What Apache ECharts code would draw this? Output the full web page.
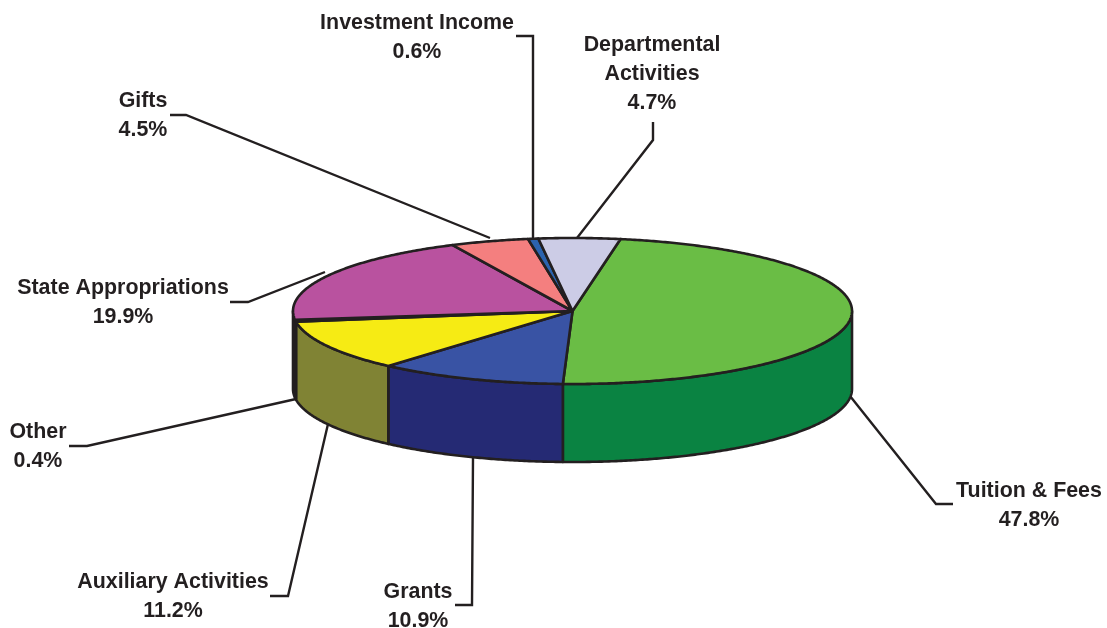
<!DOCTYPE html>
<html><head><meta charset="utf-8">
<style>html,body{margin:0;padding:0;background:#fff}#c{width:1107px;height:628px}</style>
<script src="https://cdn.jsdelivr.net/npm/echarts@6/dist/echarts.min.js"></script>
</head><body><div id="c"></div>
<script>
// Data: clockwise from the top of the pie
var categories = ['Tuition & Fees','Grants','Auxiliary Activities','Other','State Appropriations','Gifts','Investment Income','Departmental Activities'];
var shares = [47.8,10.9,11.2,0.4,19.9,4.5,0.6,4.7];
var labelLines = [['Tuition & Fees'],['Grants'],['Auxiliary Activities'],['Other'],['State Appropriations'],['Gifts'],['Investment Income'],['Departmental','Activities']];

// Styles
var topColors = ['#6abd45','#3953a4','#f6eb14','#231f20','#b9529f','#f47f7f','#2b63ae','#cccce6'];
var sideColors = ['#0a8342','#252a74','#808334','#231f20','#231f20','#f47f7f','#2b63ae','#cccce6'];
var ink = '#231f20';

// Layout of the projected pie
var cx = 572.5, cy = 311, rx = 279.5, ry = 73, depth = 78, startDeg = 9.9;

// Label anchors and leader routes (annotation layout)
var labelAt = [[1029,505.5],[418,607],[173,596.5],[38,446.5],[123,302.5],[143,116],[417,37.5],[652,74]];
var leaders = [
  [[850,396],[936,504],[953,504]],
  [[473,458],[472,605],[455,605]],
  [[328,424],[288,596],[270,596]],
  [[296,399],[87,446],[69,446]],
  [[325,272],[248,302],[230,302]],
  [[490,238],[186,115],[170,115]],
  [[533,238],[533,36],[516,36]],
  [[577,238],[653,140],[653,122]]
];

var spans = (function(){
  var a = startDeg, out = [];
  shares.forEach(function(v){ var b = a + v*3.6; out.push([a,b]); a = b; });
  return out;
})();
function pt(deg, dy){
  var t = deg*Math.PI/180;
  return [cx + rx*Math.sin(t), cy + (dy||0) - ry*Math.cos(t)];
}
function arc(a, b, dy){
  var n = Math.max(2, Math.ceil(Math.abs(b-a)/0.5)), p = [];
  for (var i=0;i<=n;i++) p.push(pt(a+(b-a)*i/n, dy));
  return p;
}
function sideItem(params){
  var i = params.dataIndex, a = Math.max(spans[i][0],90), b = Math.min(spans[i][1],270);
  if (b <= a) return {type:'group',children:[]};
  var pts = arc(a,b,0).concat(arc(b,a,depth));
  return {type:'polygon',shape:{points:pts},style:{fill:sideColors[i],stroke:ink,lineWidth:2.6,lineJoin:'round'}};
}
function topItem(params){
  var i = params.dataIndex;
  var pts = [[cx,cy]].concat(arc(spans[i][0],spans[i][1],0));
  return {type:'polygon',shape:{points:pts},style:{fill:topColors[i],stroke:ink,lineWidth:2.6,lineJoin:'round'}};
}
function leaderItem(params){
  return {type:'polyline',shape:{points:leaders[params.dataIndex]},style:{fill:null,stroke:ink,lineWidth:2.4,lineJoin:'miter'}};
}
function labelItem(params, api){
  var i = params.dataIndex, v = api.value(0);
  return {type:'text',x:labelAt[i][0],y:labelAt[i][1],style:{
    text: labelLines[i].concat([v.toFixed(1)+'%']).join('\n'),
    font:'bold 21.4px "Liberation Sans", Arial, sans-serif',
    lineHeight:28.8, fill:ink, align:'center', verticalAlign:'middle'
  }};
}
function layer(fn, z){ return {type:'custom',coordinateSystem:'none',renderItem:fn,data:shares,z:z,silent:true,animation:false,clip:false}; }
var chart = echarts.init(document.getElementById('c'),null,{renderer:'canvas'});
chart.setOption({
  backgroundColor:'#fff',
  animation:false,
  series:[layer(leaderItem,1),layer(sideItem,2),layer(topItem,3),layer(labelItem,4)]
});
</script></body></html>
